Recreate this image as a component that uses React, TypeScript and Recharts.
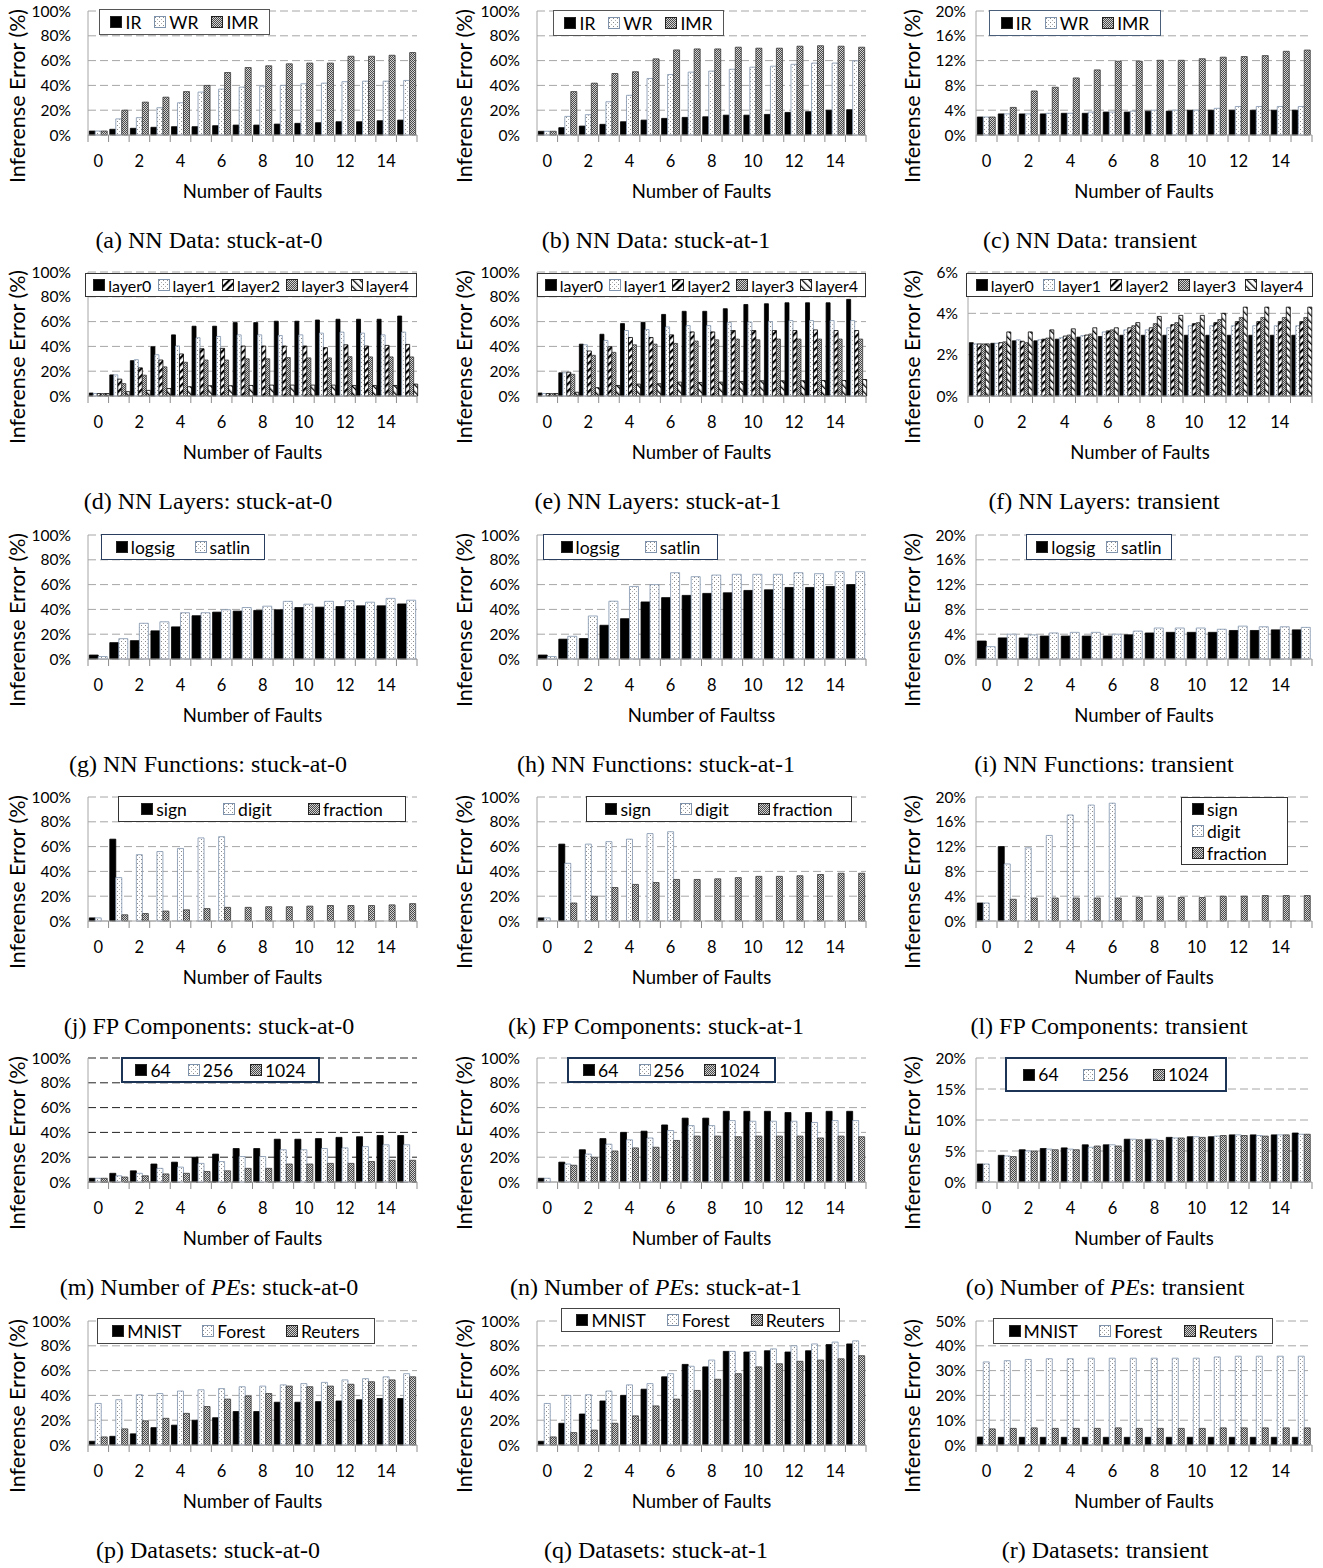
import type { ReactNode } from 'react'
import { BarChart, Bar, XAxis, YAxis, CartesianGrid } from 'recharts'

const faults = ['0', '1', '2', '3', '4', '5', '6', '7', '8', '9', '10', '11', '12', '13', '14', '15']

// (a) NN Data: stuck-at-0
const aIR = [3.2, 4.6, 5.4, 6.2, 6.7, 6.7, 7.5, 8, 8, 8.8, 9.4, 9.9, 10.7, 10.7, 11.5, 12]
const aWR = [3.2, 13, 14, 22, 26, 34.6, 37, 38.6, 39.4, 40, 41.3, 41.8, 43, 43.4, 43.4, 44]
const aIMR = [3.2, 20, 26.5, 30.5, 35, 40, 50.4, 54.4, 55.8, 57.4, 58, 58, 63.5, 63.5, 64.3, 66.5]
// (b) NN Data: stuck-at-1
const bIR = [3, 5.9, 7.2, 8.6, 10.7, 12, 13.4, 14.2, 14.7, 16, 16, 16.6, 18.2, 18.8, 20, 20.4]
const bWR = [3, 15, 16.4, 26.8, 32, 45.6, 48.8, 50.7, 51.5, 53, 54.7, 55.5, 57, 58, 58, 59.8]
const bIMR = [3, 35, 41.8, 49.6, 51, 61.4, 68.6, 69.4, 69.4, 70.8, 70, 70, 71.6, 72, 71.6, 70.8]
// (c) NN Data: transient
const cIR = [2.9, 3.4, 3.4, 3.4, 3.5, 3.5, 3.7, 3.7, 3.85, 3.85, 4, 4, 4, 4, 4, 4]
const cWR = [2.9, 3.4, 3.4, 3.5, 3.5, 3.7, 3.7, 3.85, 4, 4, 4, 4.3, 4.6, 4.6, 4.6, 4.6]
const cIMR = [2.9, 4.45, 7.1, 7.7, 9.2, 10.5, 11.9, 11.9, 12.05, 12.05, 12.3, 12.55, 12.65, 12.8, 13.5, 13.7]

// (d) NN Layers: stuck-at-0
const dL0 = [2.4, 17, 28.5, 39.7, 49.3, 56.3, 56.3, 59.2, 59.2, 60.3, 60.3, 61.3, 61.9, 61.9, 61.9, 64.5]
const dL1 = [2, 17, 29.3, 33.3, 40.3, 47, 48, 49.3, 49.3, 48.8, 49.3, 50.7, 51.5, 50.7, 49.3, 51.5]
const dL2 = [2, 13.6, 22.7, 29, 33.9, 38.1, 38.4, 40.3, 40.3, 40.3, 40.3, 39, 41.3, 40.3, 40.8, 41.6]
const dL3 = [2, 10, 16.8, 23.5, 27.2, 29, 29, 30, 30, 31, 30.7, 30.7, 31.7, 31.5, 31.5, 31.5]
const dL4 = [2, 3.5, 4.5, 6, 7.5, 8.3, 8.3, 8.5, 8.8, 8.8, 8.8, 8.8, 8.5, 8.5, 8.5, 9.6]
// (e) NN Layers: stuck-at-1
const eL0 = [2.4, 18.7, 41.8, 49.8, 58.4, 59.5, 65.8, 68.3, 68.3, 70.4, 73.8, 74.4, 75.2, 75.2, 75.2, 77.9]
const eL1 = [2, 18.7, 41.3, 44.8, 52.8, 53.6, 55.7, 56.8, 56.8, 59.2, 59.7, 60, 60.8, 60.8, 60.8, 60.8]
const eL2 = [2, 19.2, 36.3, 39.7, 47.2, 47.2, 49.3, 51.7, 51.7, 52.8, 52.8, 52.8, 52.8, 53.3, 52.8, 52.8]
const eL3 = [2, 17.5, 32.8, 35.2, 41.3, 41.8, 42.4, 44.3, 45.3, 45.9, 45.3, 45.9, 45.9, 45.9, 45.9, 45.9]
const eL4 = [2, 3, 6.7, 8.5, 9.6, 9.9, 11.2, 10.9, 11.2, 11.7, 12.3, 12.3, 12.3, 12.5, 12.5, 13.3]
// (f) NN Layers: transient
const fL0 = [2.58, 2.55, 2.67, 2.67, 2.75, 2.85, 2.88, 2.94, 2.94, 2.94, 2.94, 2.94, 2.94, 2.94, 2.94, 2.94]
const fL1 = [2.52, 2.55, 2.72, 2.72, 2.82, 2.92, 3.1, 3.2, 3.2, 3.3, 3.4, 3.4, 3.4, 3.4, 3.4, 3.4]
const fL2 = [2.52, 2.58, 2.65, 2.75, 2.9, 2.95, 3.15, 3.3, 3.3, 3.45, 3.5, 3.55, 3.6, 3.6, 3.6, 3.6]
const fL3 = [2.52, 2.62, 2.58, 2.8, 2.95, 3, 3.2, 3.4, 3.5, 3.55, 3.55, 3.7, 3.8, 3.8, 3.8, 3.8]
const fL4 = [2.52, 3.1, 3.1, 3.2, 3.25, 3.3, 3.3, 3.55, 3.85, 3.9, 3.9, 4, 4.3, 4.3, 4.3, 4.3]

// (g) NN Functions: stuck-at-0
const gLogsig = [3.2, 13.2, 14.8, 22.7, 25.9, 34.9, 37.8, 38.6, 39.2, 39.7, 41.5, 41.8, 42.3, 42.9, 42.9, 44.4]
const gSatlin = [2, 16.4, 28.8, 30, 37.3, 37.3, 39.7, 41.5, 42.6, 46.5, 44.2, 46.5, 47, 45.8, 48.9, 47.4]
// (h) NN Functions: stuck-at-1
const hLogsig = [3.2, 16, 16.5, 27.2, 32.5, 46, 49.5, 51.3, 52.9, 53.4, 55.3, 55.8, 57.7, 57.7, 58.5, 60]
const hSatlin = [2, 18.3, 34.7, 46.6, 58.5, 60, 69.6, 66.4, 67.7, 68.3, 68.3, 68.3, 69.6, 68.8, 70.4, 70.4]
// (i) NN Functions: transient
const iLogsig = [2.9, 3.4, 3.4, 3.7, 3.7, 3.7, 3.7, 3.9, 4.2, 4.3, 4.3, 4.3, 4.6, 4.6, 4.7, 4.7]
const iSatlin = [2, 4, 3.9, 4.2, 4.3, 4.3, 4, 4.5, 5, 5, 5, 4.8, 5.3, 5.2, 5.2, 5.1]

// (j) FP Components: stuck-at-0
const jSign = [2.5, 66, 0, 0, 0, 0, 0, 0, 0, 0, 0, 0, 0, 0, 0, 0]
const jDigit = [2.5, 35, 53.5, 56, 58.5, 67, 68, 0, 0, 0, 0, 0, 0, 0, 0, 0]
const jFraction = [0, 5, 6, 8, 9, 10, 11, 11, 11.5, 11.5, 12, 12.5, 12.5, 12.5, 13, 14]
// (k) FP Components: stuck-at-1
const kSign = [2.5, 62, 0, 0, 0, 0, 0, 0, 0, 0, 0, 0, 0, 0, 0, 0]
const kDigit = [2.5, 46.5, 62, 64, 66, 70.5, 72, 0, 0, 0, 0, 0, 0, 0, 0, 0]
const kFraction = [0, 14.5, 20, 27, 29.5, 31, 33.5, 33.5, 34, 35, 36, 36, 36.5, 37.5, 38.5, 38.5]
// (l) FP Components: transient
const lSign = [2.9, 12, 0, 0, 0, 0, 0, 0, 0, 0, 0, 0, 0, 0, 0, 0]
const lDigit = [2.9, 9.2, 11.8, 13.8, 17.1, 18.7, 19, 0, 0, 0, 0, 0, 0, 0, 0, 0]
const lFraction = [0, 3.5, 3.7, 3.7, 3.7, 3.7, 3.7, 3.8, 3.8, 3.8, 3.8, 4, 4, 4.1, 4.1, 4.1]

// (m) Number of PEs: stuck-at-0
const m64 = [3, 7, 9, 14.5, 16, 20, 22.5, 27, 27, 34.5, 34.5, 35, 36, 36.5, 37.5, 37.5]
const m256 = [3, 5, 7, 11, 12, 15, 16.5, 20.5, 20.5, 26, 26, 27, 27.5, 28.5, 30, 30]
const m1024 = [3, 4, 5, 6.5, 7, 8.5, 9, 11, 11, 14.5, 14.5, 15, 15, 16.5, 17.5, 17.5]
// (n) Number of PEs: stuck-at-1
const n64 = [3, 16, 26, 35, 40, 41, 46, 51.5, 51.5, 57, 57, 57, 56, 56, 57, 57]
const n256 = [3, 14.5, 22.5, 30.5, 34, 35.5, 41.5, 45.5, 45.5, 49.5, 49, 49, 49, 48, 49.5, 49.5]
const n1024 = [0, 13.5, 20, 25, 27.5, 28, 33.5, 37, 37, 36.5, 37, 37, 37, 35.5, 37, 36.5]
// (o) Number of PEs: transient
const o64 = [2.9, 4.3, 5.2, 5.4, 5.5, 6, 6, 6.9, 6.9, 7.2, 7.3, 7.3, 7.6, 7.6, 7.6, 7.9]
const o256 = [2.9, 4.2, 5, 5.3, 5.3, 5.6, 6, 6.9, 6.9, 7.1, 7.3, 7.4, 7.6, 7.5, 7.6, 7.7]
const o1024 = [0, 4.1, 5, 5.2, 5.2, 5.8, 5.8, 6.8, 6.7, 7.1, 7.2, 7.5, 7.5, 7.4, 7.6, 7.7]

// (p) Datasets: stuck-at-0
const pMnist = [3, 7, 9, 14, 16, 20, 22, 27, 27, 34.5, 34.5, 35, 35.5, 36.5, 37.5, 37.5]
const pForest = [33.5, 36.5, 40.5, 41.5, 43.5, 44.5, 45.5, 47, 47.5, 48.5, 49.5, 50.5, 52.5, 53.5, 55, 57.5]
const pReuters = [6.5, 13, 19.5, 21.5, 25.5, 31, 37, 39.5, 41.5, 47.5, 47, 47.5, 49, 51, 52.5, 55]
// (q) Datasets: stuck-at-1
const qMnist = [3, 17.5, 25, 35.5, 40, 45, 55, 65, 63, 75.5, 75, 76, 75, 76, 81, 81.5]
const qForest = [33.5, 40, 40.5, 43.5, 48.5, 49.5, 57.5, 63.5, 68.5, 75.5, 75.5, 77.5, 80, 81.5, 83, 84]
const qReuters = [6.5, 10, 12, 17.5, 23.5, 31.5, 37, 44, 53, 57.5, 63, 65.5, 67.5, 68.5, 69.5, 72]
// (r) Datasets: transient
const rMnist = [3.2, 3.1, 3.1, 3.1, 3.1, 3.1, 3.1, 3.1, 3.1, 3.1, 3.1, 3.1, 3.1, 3.1, 3.1, 3.1]
const rForest = [33.5, 34, 34.5, 34.8, 34.8, 35, 35, 35, 35, 35, 35, 35.5, 35.8, 35.8, 35.8, 35.8]
const rReuters = [6.5, 6.7, 6.9, 6.7, 6.7, 6.7, 6.9, 6.7, 6.7, 6.7, 6.7, 6.9, 6.9, 6.9, 6.9, 6.9]

const pctTicks100 = [0, 20, 40, 60, 80, 100]
const pctTicks20 = [0, 4, 8, 12, 16, 20]
const pctTicks6 = [0, 2, 4, 6]
const pctTicks20by5 = [0, 5, 10, 15, 20]
const pctTicks50 = [0, 10, 20, 30, 40, 50]

type Kind = 'solid' | 'dot' | 'check' | 'fwd' | 'back'
type Series = { name: string; kind: Kind; values: number[] }
type LegendSpec = {
  left: number
  top: number
  width: number
  height: number
  border: string
  borderWidth?: number
  vertical?: boolean
  fontSize?: number
}
type PanelSpec = {
  row: number
  col: number
  series: Series[]
  yMax: number
  yTicks: number[]
  yWidth?: number
  caption: ReactNode
  captionX: number
  xTitle?: string
  legend: LegendSpec
  gridColor?: string
}

const FONT = "Lato, 'Open Sans', sans-serif"
const CHART_W = 441
const CHART_H = 202
const RIGHT = 24
const COL_X = [0, 449, 895]
const ROW_Y = [0, 261, 524, 786, 1047, 1310]

const kindStyle: Record<Kind, { fill: string; stroke: string }> = {
  solid: { fill: '#000', stroke: '#000' },
  dot: { fill: 'url(#p-dot)', stroke: '#7f93ad' },
  check: { fill: 'url(#p-check)', stroke: '#3a3a3a' },
  fwd: { fill: 'url(#p-fwd)', stroke: '#000' },
  back: { fill: 'url(#p-back)', stroke: '#000' },
}

const S = (name: string, kind: Kind, values: number[]): Series => ({ name, kind, values })

const panels: PanelSpec[] = [
  {
    row: 0, col: 0, yMax: 100, yTicks: pctTicks100, captionX: 209,
    caption: '(a) NN Data: stuck-at-0',
    series: [S('IR', 'solid', aIR), S('WR', 'dot', aWR), S('IMR', 'check', aIMR)],
    legend: { left: 99, top: 9, width: 171, height: 26, border: '#555' },
  },
  {
    row: 0, col: 1, yMax: 100, yTicks: pctTicks100, captionX: 656,
    caption: '(b) NN Data: stuck-at-1',
    series: [S('IR', 'solid', bIR), S('WR', 'dot', bWR), S('IMR', 'check', bIMR)],
    legend: { left: 104, top: 10, width: 171, height: 26, border: '#555' },
  },
  {
    row: 0, col: 2, yMax: 20, yTicks: pctTicks20, captionX: 1090,
    caption: '(c) NN Data: transient',
    series: [S('IR', 'solid', cIR), S('WR', 'dot', cWR), S('IMR', 'check', cIMR)],
    legend: { left: 94, top: 10, width: 172, height: 26, border: '#4a5f7a' },
  },
  {
    row: 1, col: 0, yMax: 100, yTicks: pctTicks100, captionX: 208,
    caption: '(d) NN Layers: stuck-at-0',
    series: [S('layer0', 'solid', dL0), S('layer1', 'dot', dL1), S('layer2', 'fwd', dL2), S('layer3', 'check', dL3), S('layer4', 'back', dL4)],
    legend: { left: 85, top: 12, width: 332, height: 24, border: '#333', fontSize: 16 },
  },
  {
    row: 1, col: 1, yMax: 100, yTicks: pctTicks100, captionX: 658,
    caption: '(e) NN Layers: stuck-at-1',
    series: [S('layer0', 'solid', eL0), S('layer1', 'dot', eL1), S('layer2', 'fwd', eL2), S('layer3', 'check', eL3), S('layer4', 'back', eL4)],
    legend: { left: 88, top: 12, width: 329, height: 24, border: '#333', fontSize: 16 },
  },
  {
    row: 1, col: 2, yMax: 6, yTicks: pctTicks6, yWidth: 73, captionX: 1104,
    caption: '(f) NN Layers: transient',
    series: [S('layer0', 'solid', fL0), S('layer1', 'dot', fL1), S('layer2', 'fwd', fL2), S('layer3', 'check', fL3), S('layer4', 'back', fL4)],
    legend: { left: 71, top: 12, width: 347, height: 24, border: '#333', fontSize: 16 },
  },
  {
    row: 2, col: 0, yMax: 100, yTicks: pctTicks100, captionX: 208,
    caption: '(g) NN Functions: stuck-at-0',
    series: [S('logsig', 'solid', gLogsig), S('satlin', 'dot', gSatlin)],
    legend: { left: 101, top: 10, width: 164, height: 26, border: '#2a3f5f' },
  },
  {
    row: 2, col: 1, yMax: 100, yTicks: pctTicks100, captionX: 656, xTitle: 'Number of Faultss',
    caption: '(h) NN Functions: stuck-at-1',
    series: [S('logsig', 'solid', hLogsig), S('satlin', 'dot', hSatlin)],
    legend: { left: 94, top: 10, width: 175, height: 26, border: '#2a3f5f' },
  },
  {
    row: 2, col: 2, yMax: 20, yTicks: pctTicks20, captionX: 1104,
    caption: '(i) NN Functions: transient',
    series: [S('logsig', 'solid', iLogsig), S('satlin', 'dot', iSatlin)],
    legend: { left: 131, top: 10, width: 146, height: 26, border: '#2a3f5f' },
  },
  {
    row: 3, col: 0, yMax: 100, yTicks: pctTicks100, captionX: 209,
    caption: '(j) FP Components: stuck-at-0',
    series: [S('sign', 'solid', jSign), S('digit', 'dot', jDigit), S('fraction', 'check', jFraction)],
    legend: { left: 118, top: 10, width: 288, height: 26, border: '#333' },
  },
  {
    row: 3, col: 1, yMax: 100, yTicks: pctTicks100, captionX: 656,
    caption: '(k) FP Components: stuck-at-1',
    series: [S('sign', 'solid', kSign), S('digit', 'dot', kDigit), S('fraction', 'check', kFraction)],
    legend: { left: 137, top: 10, width: 266, height: 26, border: '#333' },
  },
  {
    row: 3, col: 2, yMax: 20, yTicks: pctTicks20, captionX: 1109,
    caption: '(l) FP Components: transient',
    series: [S('sign', 'solid', lSign), S('digit', 'dot', lDigit), S('fraction', 'check', lFraction)],
    legend: { left: 286, top: 11, width: 107, height: 68, border: '#333', vertical: true },
  },
  {
    row: 4, col: 0, yMax: 100, yTicks: pctTicks100, captionX: 209, gridColor: '#222',
    caption: <>(m) Number of <i>PE</i>s: stuck-at-0</>,
    series: [S('64', 'solid', m64), S('256', 'dot', m256), S('1024', 'check', m1024)],
    legend: { left: 121, top: 10, width: 199, height: 26, border: '#1c3557', borderWidth: 2 },
  },
  {
    row: 4, col: 1, yMax: 100, yTicks: pctTicks100, captionX: 656,
    caption: <>(n) Number of <i>PE</i>s: stuck-at-1</>,
    series: [S('64', 'solid', n64), S('256', 'dot', n256), S('1024', 'check', n1024)],
    legend: { left: 118, top: 10, width: 209, height: 26, border: '#1c3557', borderWidth: 2 },
  },
  {
    row: 4, col: 2, yMax: 20, yTicks: pctTicks20by5, captionX: 1105,
    caption: <>(o) Number of <i>PE</i>s: transient</>,
    series: [S('64', 'solid', o64), S('256', 'dot', o256), S('1024', 'check', o1024)],
    legend: { left: 110, top: 10, width: 222, height: 35, border: '#1c3557', borderWidth: 2 },
  },
  {
    row: 5, col: 0, yMax: 100, yTicks: pctTicks100, captionX: 208,
    caption: '(p) Datasets: stuck-at-0',
    series: [S('MNIST', 'solid', pMnist), S('Forest', 'dot', pForest), S('Reuters', 'check', pReuters)],
    legend: { left: 97, top: 8, width: 278, height: 26, border: '#444' },
  },
  {
    row: 5, col: 1, yMax: 100, yTicks: pctTicks100, captionX: 656,
    caption: '(q) Datasets: stuck-at-1',
    series: [S('MNIST', 'solid', qMnist), S('Forest', 'dot', qForest), S('Reuters', 'check', qReuters)],
    legend: { left: 112, top: -2, width: 279, height: 24, border: '#444' },
  },
  {
    row: 5, col: 2, yMax: 50, yTicks: pctTicks50, captionX: 1105,
    caption: '(r) Datasets: transient',
    series: [S('MNIST', 'solid', rMnist), S('Forest', 'dot', rForest), S('Reuters', 'check', rReuters)],
    legend: { left: 98, top: 8, width: 280, height: 26, border: '#444' },
  },
]

// tick marks sit between categories (Excel style), labels on every other fault count
const FaultTick = (props: any) => {
  const { x, y, payload, index, band } = props
  const last = index === faults.length - 1
  return (
    <g>
      <line x1={x - band / 2} x2={x - band / 2} y1={y} y2={y + 7} stroke="#8c8c8c" />
      {last && <line x1={x + band / 2} x2={x + band / 2} y1={y} y2={y + 7} stroke="#8c8c8c" />}
      {index % 2 === 0 && (
        <text x={x} y={y + 26} textAnchor="middle" dominantBaseline="central" fontSize={16.5} fontFamily={FONT} fill="#000">
          {payload.value}
        </text>
      )}
    </g>
  )
}

const Swatch = ({ kind }: { kind: Kind }) => (
  <svg width={12} height={12} style={{ flex: 'none' }}>
    <rect x={0.5} y={0.5} width={11} height={11} fill={kindStyle[kind].fill} stroke={kind === 'dot' ? '#7f93ad' : '#222'} />
  </svg>
)

const LegendBox = ({ spec, series }: { spec: LegendSpec; series: Series[] }) => (
  <div
    style={{
      position: 'absolute',
      left: spec.left,
      top: spec.top,
      width: spec.width,
      height: spec.height,
      boxSizing: 'border-box',
      border: `${spec.borderWidth ?? 1}px solid ${spec.border}`,
      background: '#fff',
      display: 'flex',
      flexDirection: spec.vertical ? 'column' : 'row',
      justifyContent: 'space-around',
      alignItems: spec.vertical ? 'flex-start' : 'center',
      padding: spec.vertical ? '0 10px' : '0 4px',
      fontFamily: FONT,
      fontSize: spec.fontSize ?? 17.5,
      color: '#000',
    }}
  >
    {series.map((s) => (
      <span key={s.name} style={{ display: 'flex', alignItems: 'center', gap: 3, whiteSpace: 'nowrap' }}>
        <Swatch kind={s.kind} />
        {s.name}
      </span>
    ))}
  </div>
)

const Panel = ({ p }: { p: PanelSpec }) => {
  const yW = p.yWidth ?? (p.col === 2 ? 81 : 88)
  const band = (CHART_W - yW - RIGHT) / faults.length
  const rows = faults.map((f, i) => {
    const r: Record<string, string | number> = { f }
    p.series.forEach((s, k) => {
      r['s' + k] = s.values[i]
    })
    return r
  })
  const left = COL_X[p.col]
  return (
    <div style={{ position: 'absolute', left, top: ROW_Y[p.row], width: CHART_W, height: 262 }}>
      <BarChart
        width={CHART_W}
        height={CHART_H}
        data={rows}
        margin={{ top: 11, right: RIGHT, bottom: 0, left: 0 }}
        barCategoryGap="6%"
        barGap={0}
      >
        <CartesianGrid vertical={false} stroke={p.gridColor ?? '#a6a6a6'} strokeDasharray="8 4" />
        <XAxis
          dataKey="f"
          interval={0}
          height={67}
          tickSize={0}
          tickMargin={0}
          tickLine={false}
          axisLine={{ stroke: '#a6a6a6' }}
          tick={(tp: any) => <FaultTick {...tp} band={band} />}
          label={{
            value: p.xTitle ?? 'Number of Faults',
            position: 'insideBottom',
            offset: 4,
            style: { fontSize: 18.5, fill: '#000', fontFamily: FONT },
          }}
        />
        <YAxis
          width={yW}
          domain={[0, p.yMax]}
          ticks={p.yTicks}
          interval={0}
          tickFormatter={(v: number) => `${v}%`}
          tickLine={false}
          tickMargin={p.col === 2 ? 4 : 11}
          axisLine={{ stroke: '#a6a6a6' }}
          tick={{ fontSize: 15.5, fill: '#000', fontFamily: FONT }}
        />
        {p.series.map((s, k) => (
          <Bar
            key={s.name}
            dataKey={'s' + k}
            name={s.name}
            fill={kindStyle[s.kind].fill}
            stroke={kindStyle[s.kind].stroke}
            strokeWidth={0.8}
            isAnimationActive={false}
          />
        ))}
      </BarChart>

      {/* rotated y title */}
      <div
        style={{
          position: 'absolute',
          left: p.col === 1 ? 16 : 18,
          top: 96,
          transform: 'translate(-50%, -50%) rotate(-90deg)',
          whiteSpace: 'nowrap',
          fontFamily: FONT,
          fontSize: 21.5,
          lineHeight: 1,
          color: '#000',
        }}
      >
        Inferense Error (%)
      </div>

      <LegendBox spec={p.legend} series={p.series} />

      {/* caption */}
      <div
        style={{
          position: 'absolute',
          left: p.captionX - left,
          top: 240,
          transform: 'translate(-50%, -50%)',
          whiteSpace: 'nowrap',
          fontFamily: "'Liberation Serif', 'Times New Roman', serif",
          fontSize: 24,
          color: '#000',
        }}
      >
        {p.caption}
      </div>
    </div>
  )
}

const App = () => (
  <div style={{ position: 'absolute', left: 0, top: 0, width: 1323, height: 1568, background: '#fff', overflow: 'hidden' }}>
    <svg width={0} height={0} style={{ position: 'absolute' }}>
      <defs>
        <pattern id="p-dot" width={4} height={4} patternUnits="userSpaceOnUse">
          <rect width={4} height={4} fill="#fff" />
          <rect x={1} y={1} width={1} height={1} fill="#8a8a8a" />
          <rect x={3} y={3} width={1} height={1} fill="#b0b0b0" />
        </pattern>
        <pattern id="p-check" width={2} height={2} patternUnits="userSpaceOnUse">
          <rect width={2} height={2} fill="#d2d2d2" />
          <rect width={1} height={1} fill="#4a4a4a" />
          <rect x={1} y={1} width={1} height={1} fill="#4a4a4a" />
        </pattern>
        <pattern id="p-fwd" width={5} height={5} patternUnits="userSpaceOnUse" patternTransform="rotate(45)">
          <rect width={5} height={5} fill="#fff" />
          <rect width={2.2} height={5} fill="#000" />
        </pattern>
        <pattern id="p-back" width={5} height={5} patternUnits="userSpaceOnUse" patternTransform="rotate(-45)">
          <rect width={5} height={5} fill="#fff" />
          <rect width={1.3} height={5} fill="#000" />
        </pattern>
      </defs>
    </svg>
    {panels.map((p, i) => (
      <Panel key={i} p={p} />
    ))}
  </div>
)

export default App
